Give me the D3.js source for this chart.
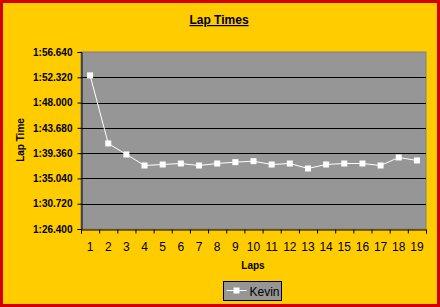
<!DOCTYPE html>
<html>
<head>
<meta charset="utf-8">
<script src="https://cdn.jsdelivr.net/npm/d3@7"></script>
<style>
  html, body { margin: 0; padding: 0; background: #fff; }
  svg { display: block; font-family: "Liberation Sans", Arial, sans-serif; }
</style>
</head>
<body>
<div id="chart"></div>
<script>
// lap numbers and lap times (seconds)
const laps = d3.range(1, 20);
const kevin = [112.65, 101.02, 99.13, 97.25, 97.42, 97.59, 97.25, 97.59, 97.82, 97.99,
               97.42, 97.59, 96.74, 97.42, 97.59, 97.59, 97.25, 98.62, 98.11];
const yTicks = [86.4, 90.72, 95.04, 99.36, 103.68, 108.0, 112.32, 116.64];

const W = 440, H = 307;
const plot = { left: 81, right: 426, top: 52, bottom: 229 };

const svg = d3.select("#chart").append("svg")
  .attr("width", W).attr("height", H);

// red frame + gold background
svg.append("rect").attr("width", W).attr("height", H).attr("fill", "#d40000");
svg.append("rect").attr("x", 3).attr("y", 3).attr("width", W - 6).attr("height", H - 6).attr("fill", "#ffcc00");

const x = d3.scaleLinear().domain([0.5, 19.5]).range([plot.left, plot.right]);
const y = d3.scaleLinear().domain([86.4, 116.64]).range([plot.bottom, plot.top]);

function fmt(s) {
  const m = Math.floor(s / 60);
  const rest = s - m * 60;
  return m + ":" + (rest < 10 ? "0" : "") + rest.toFixed(3);
}

// plot area
svg.append("rect")
  .attr("x", plot.left).attr("y", plot.top)
  .attr("width", plot.right - plot.left).attr("height", plot.bottom - plot.top)
  .attr("fill", "#969696").attr("stroke", "#808080");

// gridlines
svg.append("g").selectAll("line")
  .data(yTicks.slice(1, -1))
  .join("line")
  .attr("x1", plot.left).attr("x2", plot.right)
  .attr("y1", d => Math.round(y(d)) + 0.5).attr("y2", d => Math.round(y(d)) + 0.5)
  .attr("stroke", "#000");

// y axis
const yAxis = svg.append("g")
  .attr("transform", `translate(${plot.left + 0.5},0)`)
  .call(d3.axisLeft(y).tickValues(yTicks).tickFormat(fmt).tickSize(4).tickPadding(5));
yAxis.select(".domain").attr("stroke", "#000");
yAxis.selectAll("text").attr("font-size", 10).attr("font-weight", "bold")
  .attr("fill", "#000").attr("font-family", "Liberation Sans, Arial, sans-serif");

// x axis: ticks between categories
const xAxis = svg.append("g")
  .attr("transform", `translate(0,${plot.bottom + 0.5})`)
  .call(d3.axisBottom(x).tickValues(d3.range(0.5, 20, 1)).tickFormat("").tickSize(4));
xAxis.select(".domain").attr("stroke", "#000");

svg.append("g").selectAll("text")
  .data(laps)
  .join("text")
  .attr("x", d => x(d))
  .attr("y", plot.bottom + 22)
  .attr("text-anchor", "middle")
  .attr("font-size", 12)
  .text(d => d);

// series
const line = d3.line().x((d, i) => x(laps[i])).y(d => y(d));
svg.append("path")
  .datum(kevin)
  .attr("d", line)
  .attr("fill", "none")
  .attr("stroke", "#fff")
  .attr("stroke-width", 1);

svg.append("g").selectAll("rect")
  .data(kevin)
  .join("rect")
  .attr("x", (d, i) => x(laps[i]) - 3)
  .attr("y", d => y(d) - 3)
  .attr("width", 6).attr("height", 6)
  .attr("fill", "#fff");

// titles
svg.append("text")
  .attr("x", 219).attr("y", 24)
  .attr("text-anchor", "middle")
  .attr("font-size", 12).attr("font-weight", "bold")
  .attr("text-decoration", "underline")
  .text("Lap Times");

svg.append("text")
  .attr("x", 253).attr("y", 269)
  .attr("text-anchor", "middle")
  .attr("font-size", 10).attr("font-weight", "bold")
  .text("Laps");

svg.append("text")
  .attr("transform", "translate(24,140) rotate(-90)")
  .attr("text-anchor", "middle")
  .attr("font-size", 10).attr("font-weight", "bold")
  .text("Lap Time");

// legend
const lg = svg.append("g").attr("transform", "translate(223.5,281.5)");
lg.append("rect").attr("width", 58).attr("height", 19)
  .attr("fill", "#969696").attr("stroke", "#000");
lg.append("line").attr("x1", 3).attr("x2", 23).attr("y1", 9).attr("y2", 9)
  .attr("stroke", "#fff");
lg.append("rect").attr("x", 10).attr("y", 6).attr("width", 6).attr("height", 6).attr("fill", "#fff");
lg.append("text").attr("x", 26).attr("y", 14)
  .attr("font-size", 12).text("Kevin");
</script>
</body>
</html>
